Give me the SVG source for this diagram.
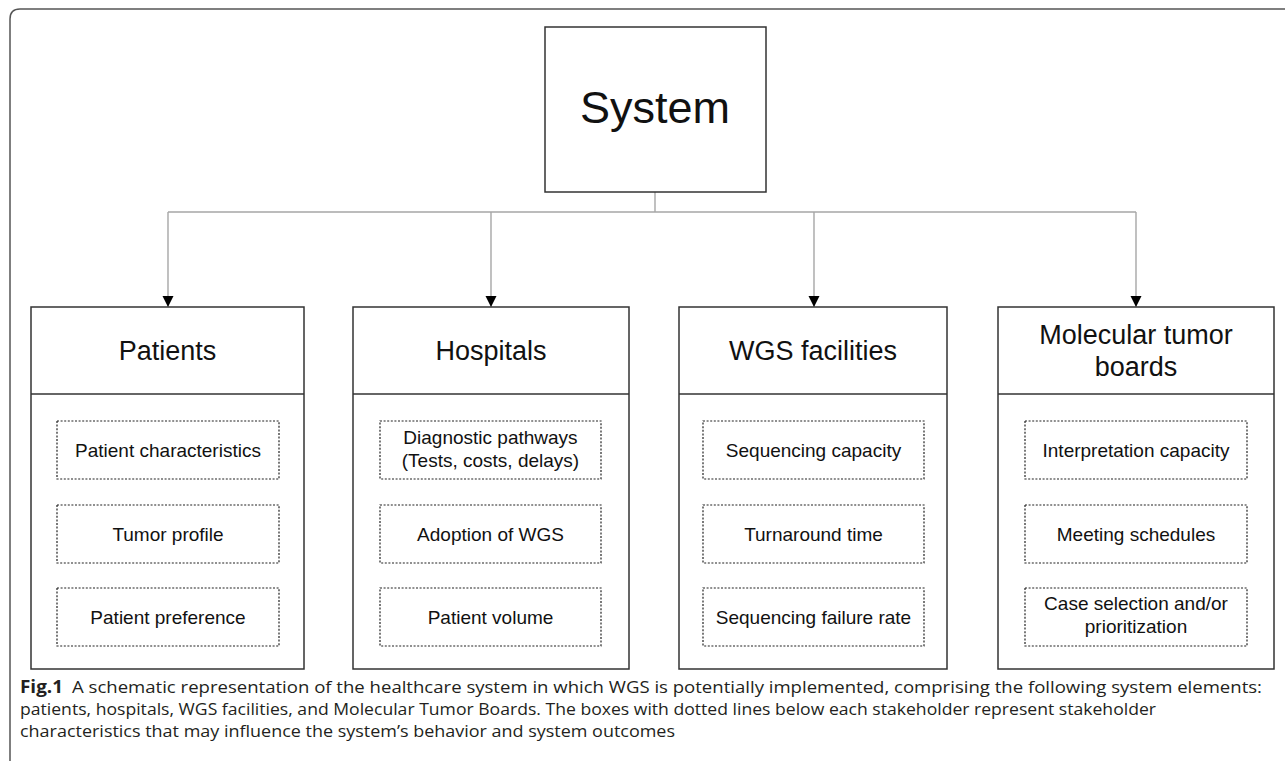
<svg xmlns="http://www.w3.org/2000/svg" width="1285" height="761" viewBox="0 0 1285 761">
<style>
.frame{fill:none;stroke:#555;stroke-width:1.5}
.box{fill:#fff;stroke:#333;stroke-width:1.5}
.dot{fill:#fff;stroke:#222;stroke-width:1.2;stroke-dasharray:2 1.6}
.conn{fill:none;stroke:#a6a6a6;stroke-width:1.4}
.t{font-family:"Liberation Sans",Arial,sans-serif;fill:#111;text-anchor:middle}
.sys{font-size:45px}
.hd{font-size:27px}
.it{font-size:19px}
.cap{font-family:"Open Sans","Noto Sans",sans-serif;font-size:17px;fill:#231f20}
.capb{font-family:"Open Sans","Noto Sans",sans-serif;font-size:17px;font-weight:bold;fill:#231f20}
</style>
<defs>
<marker id="arr" markerUnits="userSpaceOnUse" markerWidth="12" markerHeight="12" refX="11" refY="6" orient="auto">
<path d="M0,0.5 L11,6 L0,11.5 Z" fill="#000"/>
</marker>
</defs>
<rect width="1285" height="761" fill="#fff"/>
<path class="frame" d="M10,761 L10,19 Q10,9 20,9 L1285,9"/>

<g id="connectors">
<path class="conn" d="M655,192 L655,212"/>
<path class="conn" d="M168,212 L1136,212"/>
<path class="conn" d="M168,212 L168,307" marker-end="url(#arr)"/>
<path class="conn" d="M491,212 L491,307" marker-end="url(#arr)"/>
<path class="conn" d="M814,212 L814,307" marker-end="url(#arr)"/>
<path class="conn" d="M1136,212 L1136,307" marker-end="url(#arr)"/>
</g>

<g id="system">
<rect class="box" x="545" y="27" width="221" height="165"/>
<text class="t sys" x="655" y="123">System</text>
</g>

<g id="patients">
<rect class="box" x="31" y="307" width="273" height="362"/>
<line class="box" x1="31" y1="394" x2="304" y2="394"/>
<text class="t hd" x="167.5" y="360">Patients</text>
<rect class="dot" x="57" y="421" width="222" height="58"/>
<text class="t it" x="168" y="456.5">Patient characteristics</text>
<rect class="dot" x="57" y="505" width="222" height="58"/>
<text class="t it" x="168" y="540.5">Tumor profile</text>
<rect class="dot" x="57" y="588" width="222" height="58"/>
<text class="t it" x="168" y="623.5">Patient preference</text>
</g>

<g id="hospitals">
<rect class="box" x="353" y="307" width="276" height="362"/>
<line class="box" x1="353" y1="394" x2="629" y2="394"/>
<text class="t hd" x="491" y="360">Hospitals</text>
<rect class="dot" x="380" y="421" width="221" height="58"/>
<text class="t it" x="490.5" y="444">Diagnostic pathways</text>
<text class="t it" x="490.5" y="467">(Tests, costs, delays)</text>
<rect class="dot" x="380" y="505" width="221" height="58"/>
<text class="t it" x="490.5" y="540.5">Adoption of WGS</text>
<rect class="dot" x="380" y="588" width="221" height="58"/>
<text class="t it" x="490.5" y="623.5">Patient volume</text>
</g>

<g id="wgs">
<rect class="box" x="679" y="307" width="268" height="362"/>
<line class="box" x1="679" y1="394" x2="947" y2="394"/>
<text class="t hd" x="813" y="360">WGS facilities</text>
<rect class="dot" x="703" y="421" width="221" height="58"/>
<text class="t it" x="813.5" y="456.5">Sequencing capacity</text>
<rect class="dot" x="703" y="505" width="221" height="58"/>
<text class="t it" x="813.5" y="540.5">Turnaround time</text>
<rect class="dot" x="703" y="588" width="221" height="58"/>
<text class="t it" x="813.5" y="623.5">Sequencing failure rate</text>
</g>

<g id="mtb">
<rect class="box" x="998" y="307" width="276" height="362"/>
<line class="box" x1="998" y1="394" x2="1274" y2="394"/>
<text class="t hd" x="1136" y="344">Molecular tumor</text>
<text class="t hd" x="1136" y="376">boards</text>
<rect class="dot" x="1025" y="421" width="222" height="58"/>
<text class="t it" x="1136" y="456.5">Interpretation capacity</text>
<rect class="dot" x="1025" y="505" width="222" height="58"/>
<text class="t it" x="1136" y="540.5">Meeting schedules</text>
<rect class="dot" x="1025" y="588" width="222" height="58"/>
<text class="t it" x="1136" y="610">Case selection and/or</text>
<text class="t it" x="1136" y="633">prioritization</text>
</g>

<g id="caption">
<text class="capb" x="20" y="693" textLength="43" lengthAdjust="spacingAndGlyphs">Fig.1</text>
<text class="cap" x="72" y="693" textLength="1190" lengthAdjust="spacingAndGlyphs">A schematic representation of the healthcare system in which WGS is potentially implemented, comprising the following system elements:</text>
<text class="cap" x="20" y="715" textLength="1136" lengthAdjust="spacingAndGlyphs">patients, hospitals, WGS facilities, and Molecular Tumor Boards. The boxes with dotted lines below each stakeholder represent stakeholder</text>
<text class="cap" x="20" y="737" textLength="655" lengthAdjust="spacingAndGlyphs">characteristics that may influence the system’s behavior and system outcomes</text>
</g>
</svg>
